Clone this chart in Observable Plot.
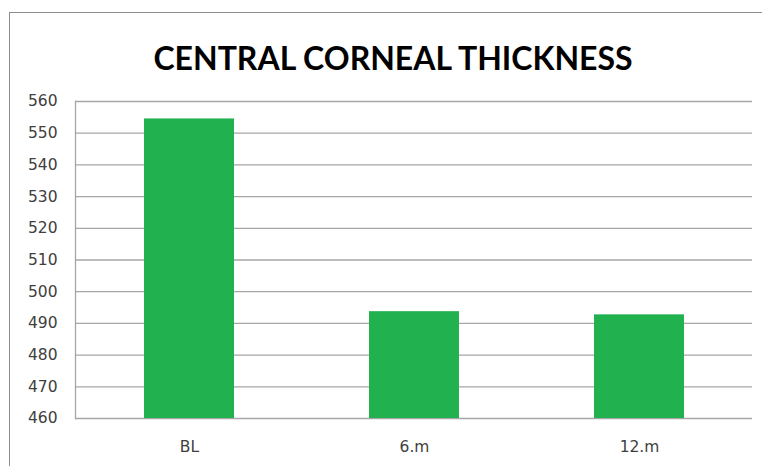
<!DOCTYPE html>
<html>
<head>
<meta charset="utf-8">
<script src="https://cdn.jsdelivr.net/npm/d3@7"></script>
<script src="https://cdn.jsdelivr.net/npm/@observablehq/plot@0.6"></script>
<style>
  html, body { margin: 0; padding: 0; background: #fff; }
  #wrap { position: relative; width: 762px; height: 466px; overflow: hidden; }
  #border { position: absolute; left: 9px; top: 12px; width: 800px; height: 500px; border: 1px solid #8c8c8c; box-sizing: border-box; }
  #chart { position: absolute; left: 0; top: 0; }
</style>
</head>
<body>
<div id="wrap">
  <div id="border"></div>
  <div id="chart"></div>
</div>
<script>
const title = "CENTRAL CORNEAL THICKNESS";
const categories = ["BL", "6.m", "12.m"];
const values = [554.5, 493.7, 492.7];
const yTicks = [460, 470, 480, 490, 500, 510, 520, 530, 540, 550, 560];
const yMin = 460, yMax = 560;

const data = categories.map((c, i) => ({cat: c, v: values[i]}));

const plot = Plot.plot({
  width: 762,
  height: 466,
  marginTop: 101,
  marginLeft: 75,
  marginRight: 10,
  marginBottom: 48,
  style: {fontFamily: "'DejaVu Sans', sans-serif", fontSize: "15.5px", color: "#404040", background: "transparent"},
  x: {type: "band", domain: categories, label: null, paddingInner: 0.6, paddingOuter: 0.3, tickSize: 0, tickPadding: 22},
  y: {domain: [yMin, yMax], ticks: yTicks, label: null, tickSize: 0, tickPadding: 18},
  marks: [
    Plot.gridY(yTicks, {stroke: "#a6a6a6", strokeOpacity: 1, strokeWidth: 1.3}),
    Plot.frame({anchor: "left", stroke: "#a6a6a6", strokeWidth: 1.3}),
    Plot.barY(data, {x: "cat", y1: () => yMin, y2: "v", fill: "#21b14f"}),
    Plot.text([title], {frameAnchor: "top", dx: -21, dy: -54, fontSize: 32, fontWeight: "bold", fill: "#000", fontFamily: "Lato, sans-serif"})
  ]
});
document.getElementById("chart").appendChild(plot);
</script>
</body>
</html>
